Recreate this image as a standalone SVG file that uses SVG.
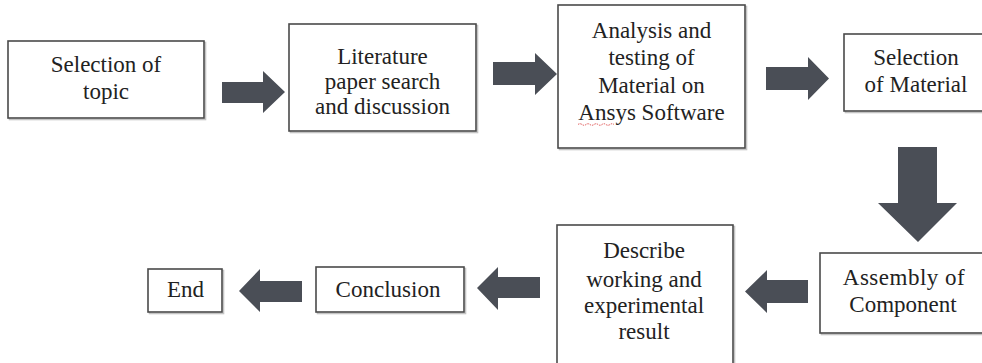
<svg xmlns="http://www.w3.org/2000/svg" width="982" height="363" viewBox="0 0 982 363">
<style>
  .box { fill: #ffffff; stroke: #4a4a4a; stroke-width: 1.6; }
  .shadow { fill: none; stroke: #c4c4c4; stroke-width: 1.6; }
  text { font-family: 'Liberation Serif', 'Times New Roman', Times, 'DejaVu Serif', serif; font-size: 23px; fill: #222222; text-anchor: middle; }
  .arrow { fill: #4a4e56; }
  .squiggle { fill: none; stroke: #e05050; stroke-width: 1; stroke-dasharray: 1.5 1; }
</style>
<rect x="0" y="0" width="982" height="363" fill="#ffffff"/>

<g id="connectors">
  <polygon class="arrow" points="222,82 263,82 263,71 285,92 263,113 263,103 222,103"/>
  <polygon class="arrow" points="493,62 535,62 535,53 557,74 535,95 535,85 493,85"/>
  <polygon class="arrow" points="766,67 808,67 808,57 829,78.5 808,100 808,90 766,90"/>
  <polygon class="arrow" points="898,147 937,147 937,203 957,203 918,242 878,203 898,203"/>
  <polygon class="arrow" points="808,280 767,280 767,270 745,291.5 767,313 767,303 808,303"/>
  <polygon class="arrow" points="540,277 498,277 498,267 477,288 498,310 498,298 540,298"/>
  <polygon class="arrow" points="302,281 260,281 260,269 239,291 260,312 260,302 302,302"/>
</g>

<g id="n1" font-family="Liberation Serif, serif">
  <rect class="shadow" x="9.5" y="42.5" width="196" height="77"/>
  <rect class="box" x="8" y="41" width="196" height="77"/>
  <text x="106" y="72">Selection of</text>
  <text x="106" y="99">topic</text>
</g>

<g id="n2">
  <rect class="shadow" x="290.5" y="25.5" width="187" height="107"/>
  <rect class="box" x="289" y="24" width="187" height="107"/>
  <text x="382.5" y="64">Literature</text>
  <text x="382.5" y="89">paper search</text>
  <text x="382.5" y="114">and discussion</text>
</g>

<g id="n3">
  <rect class="shadow" x="559.5" y="6.5" width="187" height="143"/>
  <rect class="box" x="558" y="5" width="187" height="143"/>
  <text x="651.5" y="38">Analysis and</text>
  <text x="651.5" y="65">testing of</text>
  <text x="651.5" y="93">Material on</text>
  <text x="651.5" y="120">Ansys Software</text>
  <path class="squiggle" d="M578,124.5 q2,-1.5 4,0 t4,0 t4,0 t4,0 t4,0 t4,0 t4,0 t4,0 t4,0"/>
</g>

<g id="n4">
  <rect class="shadow" x="845.5" y="35.5" width="150" height="77"/>
  <rect class="box" x="844" y="34" width="150" height="77"/>
  <text x="916" y="65">Selection</text>
  <text x="916" y="92">of Material</text>
</g>

<g id="n5">
  <rect class="shadow" x="821.5" y="254.5" width="175" height="80"/>
  <rect class="box" x="820" y="253" width="175" height="80"/>
  <text x="904" y="285" letter-spacing="0.5">Assembly of</text>
  <text x="903" y="312">Component</text>
</g>

<g id="n6">
  <rect class="shadow" x="558.5" y="226.5" width="176" height="150"/>
  <rect class="box" x="557" y="225" width="176" height="150"/>
  <text x="644" y="258">Describe</text>
  <text x="644" y="287">working and</text>
  <text x="644" y="313">experimental</text>
  <text x="644" y="339">result</text>
</g>

<g id="n7">
  <rect class="shadow" x="317.5" y="268.5" width="148" height="45"/>
  <rect class="box" x="316" y="267" width="148" height="45"/>
  <text x="388" y="297">Conclusion</text>
</g>

<g id="n8">
  <rect class="shadow" x="149.5" y="270.5" width="74" height="43"/>
  <rect class="box" x="148" y="269" width="74" height="43"/>
  <text x="185.5" y="297">End</text>
</g>
</svg>
